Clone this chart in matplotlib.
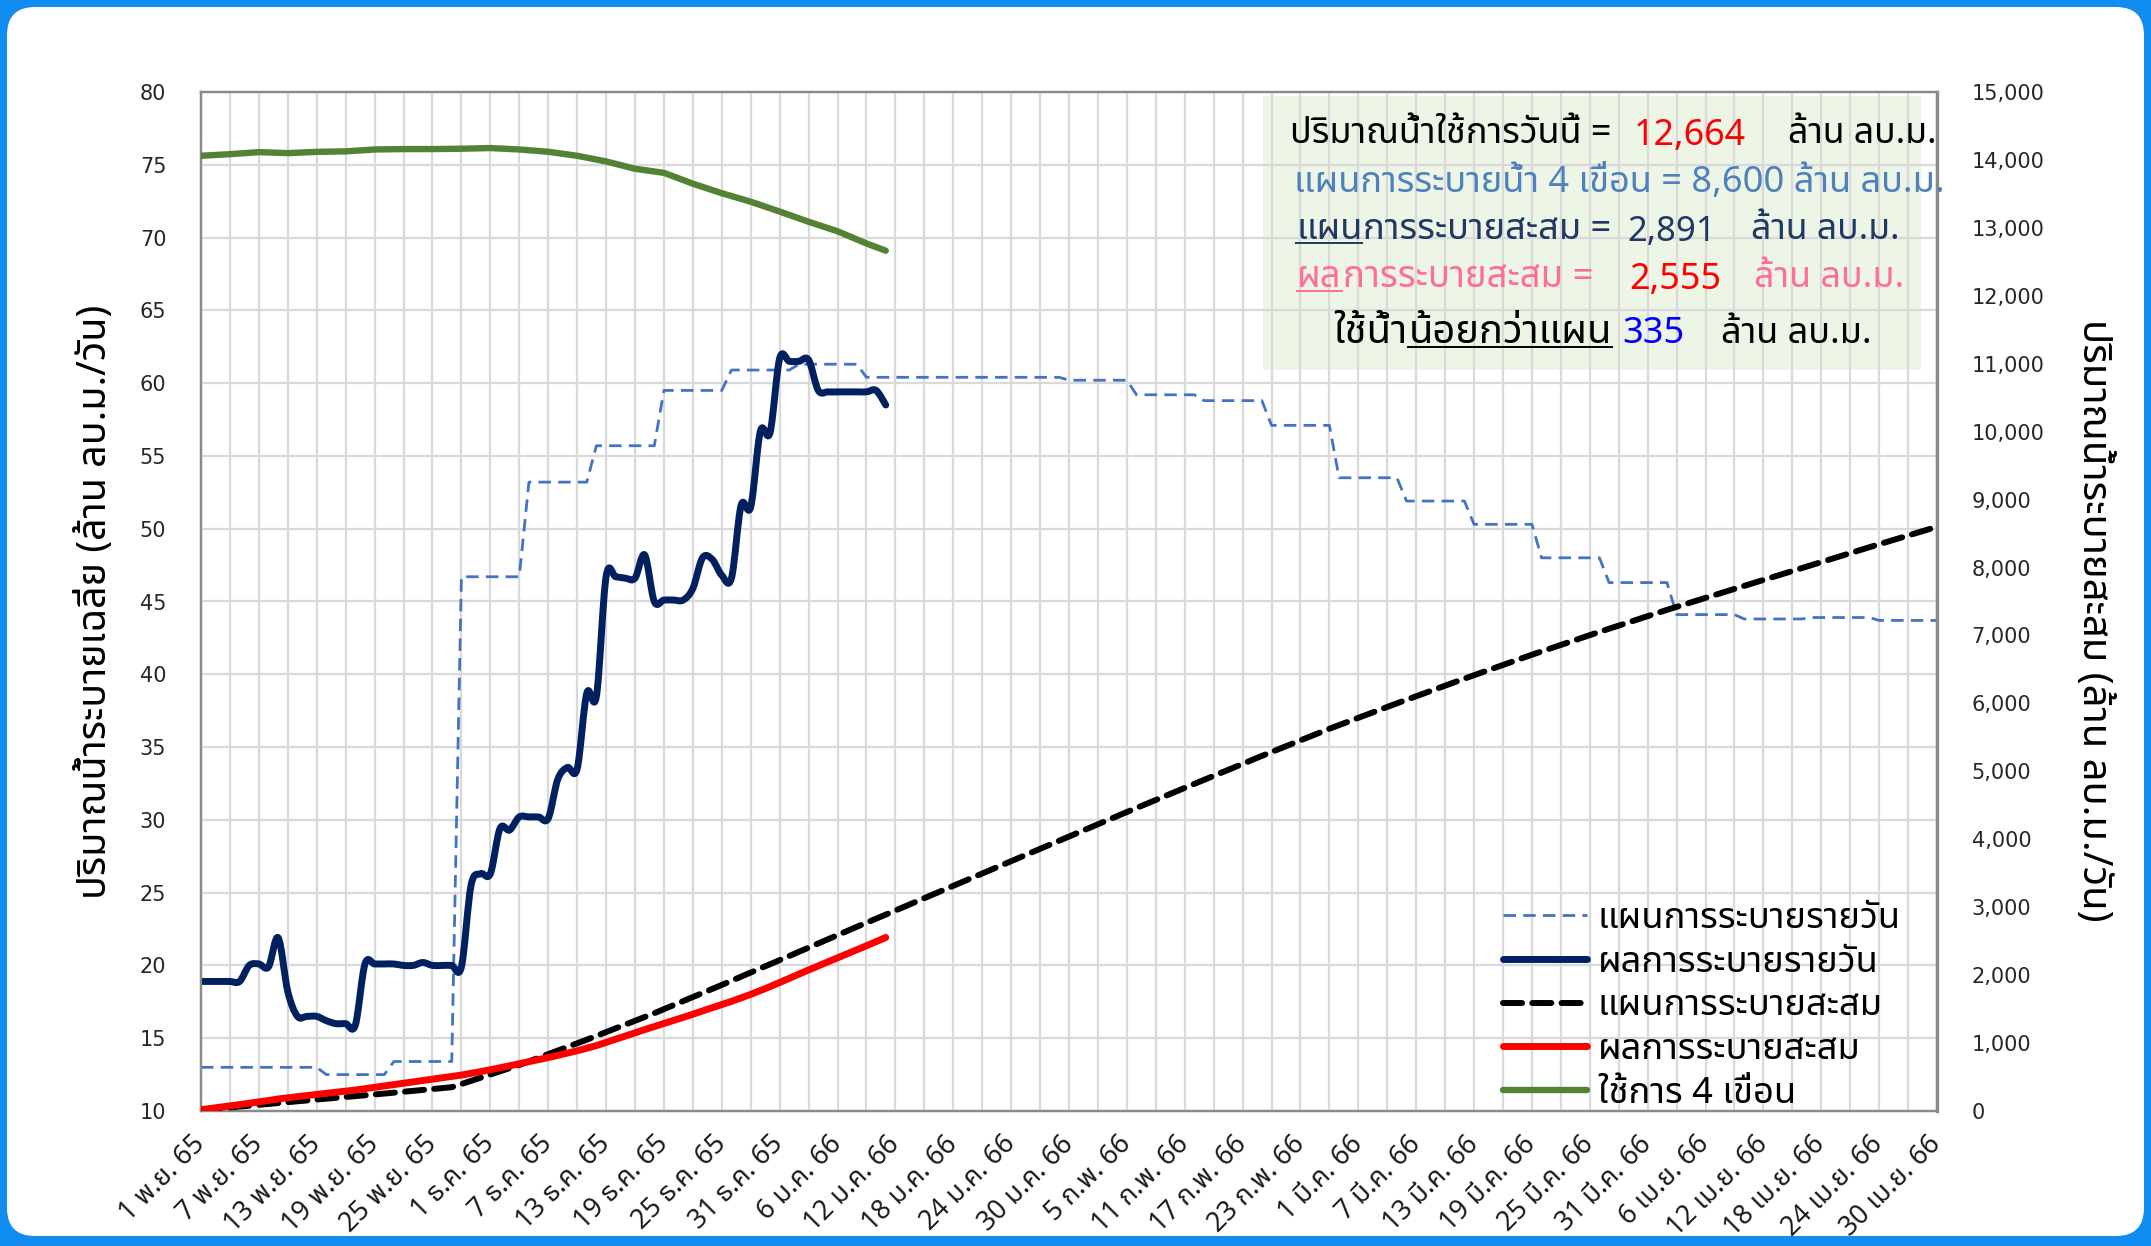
import numpy as np
import matplotlib
matplotlib.use("Agg")
import matplotlib.pyplot as plt
from matplotlib import font_manager
from matplotlib.ft2font import FT2Font
from matplotlib.patches import FancyBboxPatch, Rectangle, PathPatch
from matplotlib.path import Path
from matplotlib.lines import Line2D
from matplotlib.transforms import IdentityTransform
from matplotlib.ticker import FuncFormatter

# ---------------------------------------------------------------- data
date_labels = [
    "1 พ.ย. 65", "7 พ.ย. 65", "13 พ.ย. 65", "19 พ.ย. 65", "25 พ.ย. 65",
    "1 ธ.ค. 65", "7 ธ.ค. 65", "13 ธ.ค. 65", "19 ธ.ค. 65", "25 ธ.ค. 65",
    "31 ธ.ค. 65", "6 ม.ค. 66", "12 ม.ค. 66", "18 ม.ค. 66", "24 ม.ค. 66",
    "30 ม.ค. 66", "5 ก.พ. 66", "11 ก.พ. 66", "17 ก.พ. 66", "23 ก.พ. 66",
    "1 มี.ค. 66", "7 มี.ค. 66", "13 มี.ค. 66", "19 มี.ค. 66", "25 มี.ค. 66",
    "31 มี.ค. 66", "6 เม.ย. 66", "12 เม.ย. 66", "18 เม.ย. 66", "24 เม.ย. 66",
    "30 เม.ย. 66",
]

# daily release plan, 1 Nov 65 - 30 Apr 66 (million m3/day)
plan_daily = [
    13.0, 13.0, 13.0, 13.0, 13.0, 13.0, 13.0, 13.0, 13.0, 13.0, 13.0, 13.0, 13.0,
    12.5, 12.5, 12.5, 12.5, 12.5, 12.5, 12.5,
    13.4, 13.4, 13.4, 13.4, 13.4, 13.4, 13.4,
    46.7, 46.7, 46.7, 46.7, 46.7, 46.7, 46.7,
    53.2, 53.2, 53.2, 53.2, 53.2, 53.2, 53.2,
    55.7, 55.7, 55.7, 55.7, 55.7, 55.7, 55.7,
    59.5, 59.5, 59.5, 59.5, 59.5, 59.5, 59.5,
    60.9, 60.9, 60.9, 60.9, 60.9, 60.9, 60.9,
    61.3, 61.3, 61.3, 61.3, 61.3, 61.3, 61.3,
    60.4, 60.4, 60.4, 60.4, 60.4, 60.4, 60.4,
    60.4, 60.4, 60.4, 60.4, 60.4, 60.4, 60.4,
    60.4, 60.4, 60.4, 60.4, 60.4, 60.4, 60.4,
    60.2, 60.2, 60.2, 60.2, 60.2, 60.2, 60.2,
    59.2, 59.2, 59.2, 59.2, 59.2, 59.2, 59.2,
    58.8, 58.8, 58.8, 58.8, 58.8, 58.8, 58.8,
    57.1, 57.1, 57.1, 57.1, 57.1, 57.1, 57.1,
    53.5, 53.5, 53.5, 53.5, 53.5, 53.5, 53.5,
    51.9, 51.9, 51.9, 51.9, 51.9, 51.9, 51.9,
    50.3, 50.3, 50.3, 50.3, 50.3, 50.3, 50.3,
    48.0, 48.0, 48.0, 48.0, 48.0, 48.0, 48.0,
    46.3, 46.3, 46.3, 46.3, 46.3, 46.3, 46.3,
    44.1, 44.1, 44.1, 44.1, 44.1, 44.1, 44.1,
    43.8, 43.8, 43.8, 43.8, 43.8, 43.8, 43.8,
    43.9, 43.9, 43.9, 43.9, 43.9, 43.9, 43.9,
    43.7, 43.7, 43.7, 43.7, 43.7, 43.7, 43.7,
]

# actual daily release up to 11 Jan 66 (million m3/day)
actual_daily = [
    18.9, 18.9, 18.9, 18.9, 18.9, 20.0, 20.1, 19.9, 21.9, 18.2,
    16.5, 16.5, 16.5, 16.2, 16.0, 16.0, 15.9, 20.1, 20.1, 20.1,
    20.1, 20.0, 20.0, 20.2, 20.0, 20.0, 20.0, 19.9, 25.5, 26.3,
    26.3, 29.4, 29.3, 30.2, 30.2, 30.2, 30.1, 32.8, 33.6, 33.5,
    38.7, 38.5, 46.7, 46.7, 46.6, 46.6, 48.2, 45.0, 45.1, 45.1,
    45.1, 45.9, 48.0, 47.9, 46.8, 46.6, 51.6, 51.5, 56.7, 56.6,
    61.7, 61.5, 61.5, 61.6, 59.5, 59.4, 59.4, 59.4, 59.4, 59.4,
    59.5, 58.5,
]

# cumulative release plan (million m3) at the days the weekly plan changes
plan_cum_days = [0, 12, 19, 26, 33, 40, 47, 54, 61, 68, 71, 89, 96, 103, 110,
                 117, 124, 131, 138, 145, 152, 159, 166, 173, 180]
plan_cum = [13.0, 169.0, 256.5, 350.3, 677.2, 1049.6, 1439.5, 1856.0, 2282.3,
            2711.4, 2891.0, 3979.8, 4401.2, 4815.6, 5227.2, 5626.9, 6001.4,
            6364.7, 6716.8, 7052.8, 7376.9, 7685.6, 7992.2, 8299.5, 8600.0]

# cumulative actual release (million m3), daily
actual_cum = [
    18.9, 37.8, 56.7, 75.6, 94.5, 114.5, 134.6, 154.5, 176.4, 194.6,
    211.1, 227.6, 244.1, 260.3, 276.3, 292.3, 308.2, 328.3, 348.4, 368.5,
    388.6, 408.6, 428.6, 448.8, 468.8, 488.8, 508.8, 528.7, 554.2, 580.5,
    606.8, 636.2, 665.5, 695.7, 725.9, 756.1, 786.2, 819.0, 852.6, 886.1,
    924.8, 963.3, 1010.0, 1056.7, 1103.3, 1149.9, 1198.1, 1243.1, 1288.2, 1333.3,
    1378.4, 1424.3, 1472.3, 1520.2, 1567.0, 1613.6, 1665.2, 1716.7, 1773.4, 1830.0,
    1891.7, 1953.2, 2014.7, 2076.3, 2135.8, 2195.2, 2254.6, 2314.0, 2373.4, 2432.8,
    2492.3, 2555.0,
]

# usable storage of the 4 main dams (million m3)
storage_days = [0, 3, 6, 9, 12, 15, 18, 21, 24, 27, 30, 33, 36, 39, 42, 45,
                48, 51, 54, 57, 60, 63, 66, 69, 71]
storage = [14061, 14085, 14115, 14100, 14119, 14126, 14154, 14160, 14160,
           14165, 14175, 14154, 14120, 14061, 13978, 13870, 13810, 13650,
           13510, 13385, 13240, 13090, 12950, 12770, 12664]

legend_labels = ["แผนการระบายรายวัน", "ผลการระบายรายวัน", "แผนการระบายสะสม",
                 "ผลการระบายสะสม", "ใช้การ 4 เขื่อน"]

# ---------------------------------------------------------------- fonts
PREFERRED_THAI = ["Tahoma", "Leelawadee UI", "Leelawadee", "Noto Sans Thai",
                  "Noto Sans Thai UI", "Noto Sans Thai Looped", "Loma", "Garuda",
                  "Waree", "Umpush", "Sarabun", "Kinnari", "Norasi", "Laksaman",
                  "Sawasdee", "TlwgTypist", "Purisa"]


def find_thai_family():
    found = {}
    for entry in font_manager.fontManager.ttflist:
        try:
            charmap = FT2Font(entry.fname).get_charmap()
        except Exception:
            continue
        if 0x0E01 in charmap and 0x0E32 in charmap and 0x0E49 in charmap:
            found.setdefault(entry.name, entry.fname)
    for name in PREFERRED_THAI:
        if name in found:
            return name
    return sorted(found)[0] if found else None


thai = find_thai_family()
FAMILY = [thai, "DejaVu Sans"] if thai else ["DejaVu Sans"]
plt.rcParams["font.family"] = FAMILY

# ---------------------------------------------------------------- figure
W, H = 2151, 1246
fig = plt.figure(figsize=(W / 100, H / 100), dpi=100)
fig.patch.set_facecolor("#118CF0")
fig.add_artist(FancyBboxPatch((7, 10), W - 14, H - 17,
                              boxstyle="round,pad=0,rounding_size=28",
                              transform=IdentityTransform(),
                              facecolor="white", edgecolor="none", zorder=-10))
renderer = fig.canvas.get_renderer()


def ink_width(s, size, **kw):
    t = fig.text(0, 0, s, fontsize=size, **kw)
    bb = t.get_window_extent(renderer)
    t.remove()
    return bb.width, bb.height


def fit_size(s, target, guess=20, **kw):
    w, _ = ink_width(s, guess, **kw)
    return guess * target / w


def smooth_path(xs, ys):
    """Bezier path through every point (Catmull-Rom style tangents)."""
    pts = np.column_stack([np.asarray(xs, float), np.asarray(ys, float)])
    n = len(pts)
    verts, codes = [pts[0]], [Path.MOVETO]
    for i in range(n - 1):
        p0 = pts[i - 1] if i > 0 else pts[i]
        p1, p2 = pts[i], pts[i + 1]
        p3 = pts[i + 2] if i + 2 < n else pts[i + 1]
        verts += [p1 + (p2 - p0) / 6.0, p2 - (p3 - p1) / 6.0, p2]
        codes += [Path.CURVE4] * 3
    return Path(verts, codes)


AX_L, AX_R, AX_T, AX_B = 201, 1937, 92, 1111
ax = fig.add_axes([AX_L / W, (H - AX_B) / H, (AX_R - AX_L) / W, (AX_B - AX_T) / H])
ax2 = ax.twinx()

GRID = "#D9D9D9"
SPINE = "#8A8A8A"
ax.set_xlim(0, 180)
ax.set_ylim(10, 80)
ax2.set_ylim(0, 15000)

ax.set_xticks(np.arange(0, 181, 6))
ax.set_xticks(np.arange(0, 181, 3), minor=True)
ax.set_yticks(np.arange(10, 81, 5))
ax2.set_yticks(np.arange(0, 15001, 1000))
ax.grid(True, axis="x", which="both", color=GRID, lw=1.6)
ax.grid(True, axis="y", which="major", color=GRID, lw=1.6)
ax.set_axisbelow(False)

TICK_SIZE = 15
tick_font = {"family": ["DejaVu Sans"], "size": TICK_SIZE}
ax.set_yticklabels([f"{v:d}" for v in range(10, 81, 5)], fontdict=tick_font, color="#262626")
ax2.yaxis.set_major_formatter(FuncFormatter(lambda v, p: f"{int(v):,}"))
for lab in ax2.get_yticklabels():
    lab.set_fontfamily(["DejaVu Sans"])
ax2.tick_params(axis="y", labelsize=TICK_SIZE, labelcolor="#262626", length=0, pad=25)
ax.tick_params(axis="y", length=0, pad=25)
ax.tick_params(axis="x", which="both", length=0, pad=21)

xt_size = fit_size("30 ม.ค. 66", 122, 14)
ax.set_xticklabels(date_labels, rotation=45, ha="right", va="center",
                   rotation_mode="anchor", fontsize=xt_size, color="#1a1a1a")

for a in (ax, ax2):
    for sp in a.spines.values():
        sp.set_color(SPINE)
        sp.set_linewidth(1.6)
ax.spines["left"].set_color("#6E6E6E")
ax2.spines["right"].set_linewidth(2.4)

# information panel background
ax.add_patch(Rectangle((0.612, 0.727), 0.379, 0.269, transform=ax.transAxes,
                       facecolor="#EDF5E6", edgecolor="none", zorder=0.5))

# ---------------------------------------------------------------- series
NAVY_LINE = "#002060"
l_plan, = ax.plot(np.arange(len(plan_daily)), plan_daily, color="#4472C4", lw=2.0,
                  ls=(0, (4.5, 2.6)), zorder=3)
ax.add_patch(PathPatch(smooth_path(np.arange(len(actual_daily)), actual_daily),
                       facecolor="none", edgecolor=NAVY_LINE, lw=5.0,
                       capstyle="round", joinstyle="round", zorder=4))
l_act = Line2D([], [], color=NAVY_LINE, lw=5.0, solid_capstyle="round")
l_cplan, = ax2.plot(plan_cum_days, plan_cum, color="black", lw=4.3,
                    ls=(0, (3.2, 1.7)), dash_capstyle="round", zorder=3)
l_cact, = ax2.plot(np.arange(len(actual_cum)), actual_cum, color="#FF0000", lw=5.0,
                   solid_capstyle="round", zorder=4)
l_store, = ax2.plot(storage_days, storage, color="#548235", lw=4.6,
                    solid_capstyle="round", solid_joinstyle="round", zorder=5)

# ---------------------------------------------------------------- axis titles
left_title = "ปริมาณน้ำระบายเฉลี่ย (ล้าน ลบ.ม./วัน)"
right_title = "ปริมาณน้ำระบายสะสม (ล้าน ลบ.ม./วัน)"
ax.set_ylabel(left_title, fontsize=fit_size(left_title, 594, 24), va="center")
ax.yaxis.set_label_coords((96 - AX_L) / (AX_R - AX_L), 0.5)
ax2.set_ylabel(right_title, fontsize=fit_size(right_title, 604, 24), rotation=270,
               va="center")
ax2.yaxis.set_label_coords((2093 - AX_L) / (AX_R - AX_L), 0.482)

# ---------------------------------------------------------------- legend
leg_size = fit_size(legend_labels[0], 303, 20)
_, leg_h = ink_width(legend_labels[2], leg_size)
fs_px = leg_size * 100 / 72
row_pitch = 43.7
leg = ax2.legend([l_plan, l_act, l_cplan, l_cact, l_store], legend_labels,
                 loc="upper left", bbox_to_anchor=(1503 / W, 1 - (919 - leg_h / 2) / H),
                 bbox_transform=fig.transFigure, frameon=False, fontsize=leg_size,
                 handlelength=84 / fs_px, handletextpad=0.3,
                 labelspacing=max(0.0, (row_pitch - leg_h) / fs_px),
                 borderpad=0, borderaxespad=0)
leg.set_zorder(6)

# ---------------------------------------------------------------- summary text
NAVY = "#1F3864"
PINK = "#FF6E9A"
STEEL = "#4F81BD"


def put_run(x0, x1, baseline, segments, guess=20):
    full = "".join(s for s, _, _ in segments)
    size = fit_size(full, x1 - x0, guess)
    x = x0
    for s, color, ul in segments:
        t = fig.text(x / W, 1 - baseline / H, s, fontsize=size, color=color,
                     va="baseline", ha="left", zorder=7)
        bb = t.get_window_extent(renderer)
        if ul:
            y = (H - baseline - 0.1 * size * 100 / 72) / H
            fig.add_artist(Line2D([bb.x0 / W, bb.x1 / W], [y, y], color=color,
                                  lw=1.4, transform=fig.transFigure, zorder=7))
        x = bb.x1 + 1


put_run(1290, 1612, 143, [("ปริมาณน้ำใช้การวันนี้ =", "black", False)])
put_run(1634, 1746, 145, [("12,664", "#FF0000", False)])
put_run(1788, 1937, 143, [("ล้าน ลบ.ม.", "black", False)])

put_run(1294, 1946, 192, [("แผนการระบายน้ำ 4 เขื่อน = 8,600 ล้าน ลบ.ม.", STEEL, False)])

put_run(1296, 1611, 239, [("แผน", NAVY, True), ("การระบายสะสม =", NAVY, False)])
put_run(1627, 1716, 241, [("2,891", NAVY, False)])
put_run(1751, 1900, 239, [("ล้าน ลบ.ม.", NAVY, False)])

put_run(1297, 1593, 287, [("ผล", PINK, True), ("การระบายสะสม =", PINK, False)])
put_run(1629, 1721, 289, [("2,555", "#FF0000", False)])
put_run(1754, 1904, 287, [("ล้าน ลบ.ม.", PINK, False)])

put_run(1333, 1611, 343, [("ใช้น้ำ", "black", False), ("น้อยกว่าแผน", "black", True)])
put_run(1622, 1684, 343, [("335", "#0000FF", False)])
put_run(1721, 1872, 343, [("ล้าน ลบ.ม.", "black", False)])

fig.savefig("out.png", dpi=100, facecolor=fig.get_facecolor())
